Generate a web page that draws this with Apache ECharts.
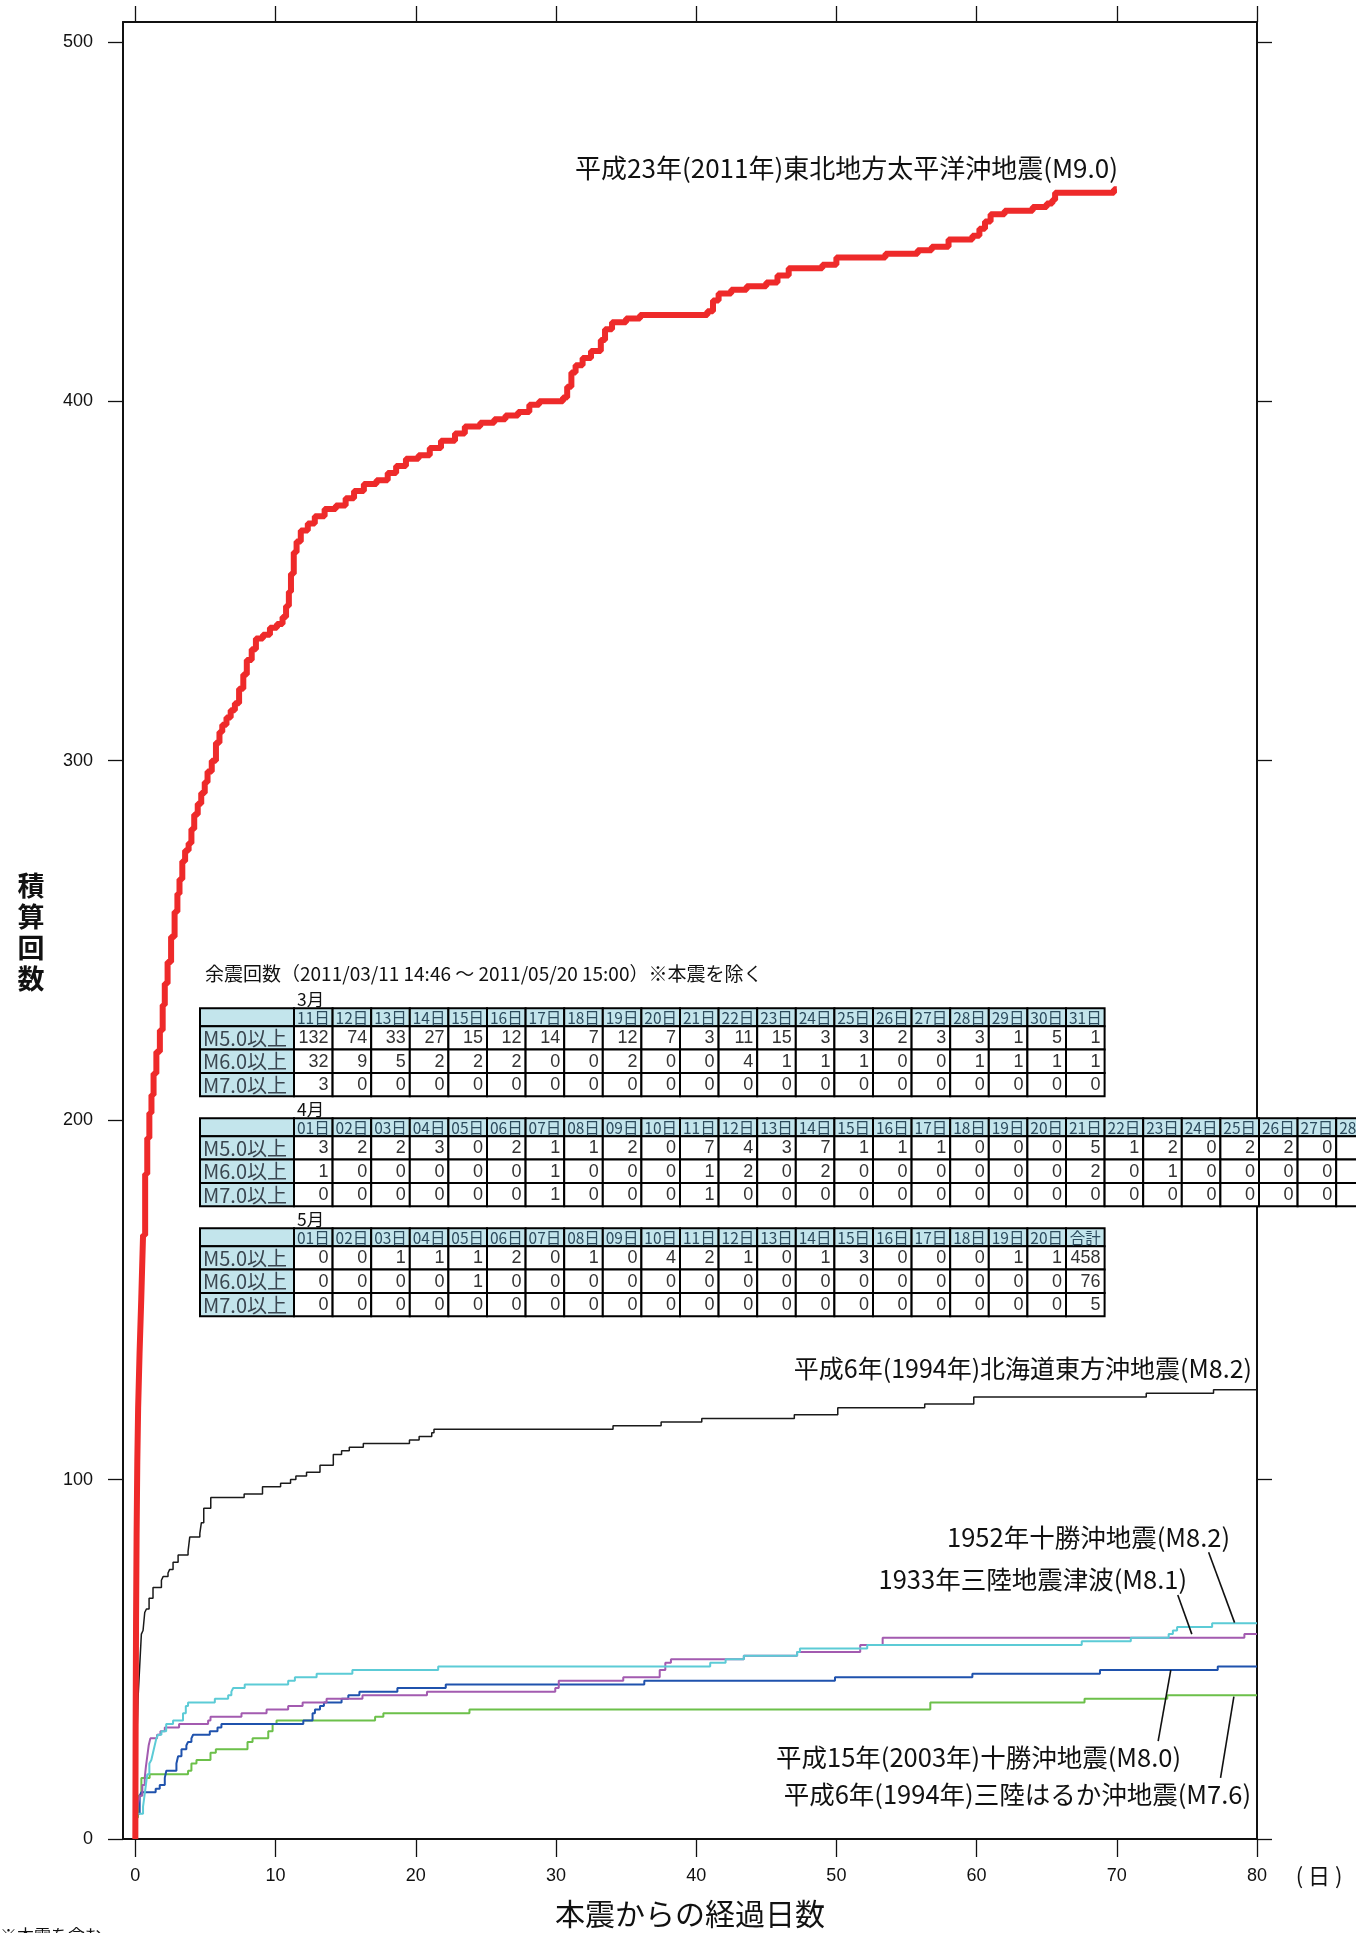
<!DOCTYPE html>
<html><head><meta charset="utf-8">
<script src="https://cdn.jsdelivr.net/npm/echarts@6/dist/echarts.min.js"></script>
<style>html,body{margin:0;padding:0;background:#fff}#c{width:1356px;height:1933px}</style>
</head><body><div id="c"></div>
<script>
// ---- axis ticks ----
const xTicks = [0,10,20,30,40,50,60,70,80];
const yTicks = [0,100,200,300,400,500];

// ---- cumulative aftershock curves [days since mainshock, cumulative count] ----
const tohoku2011 = [[0,0],[0.02,30],[0.05,60],[0.09,85],[0.14,105],[0.2,120],[0.3,135],[0.42,150],[0.55,168],[0.7,185],[0.85,195],[1.0,202],[1.15,207],[1.3,213],[1.5,219],[1.75,225],[1.95,232],[2.1,238],[2.3,244],[2.55,251],[2.8,258],[3.0,263],[3.15,267],[3.35,272],[3.55,275],[3.8,277],[4.0,281],[4.2,285],[4.45,288],[4.7,291],[4.95,294],[5.15,297],[5.45,300],[5.75,305],[6.0,308],[6.2,310],[6.5,312],[6.8,314],[7.1,316],[7.4,320],[7.7,324],[7.95,328],[8.3,331],[8.6,334],[9.1,335],[9.6,337],[10.1,338],[10.5,340],[10.75,343],[10.95,347],[11.1,352],[11.3,358],[11.5,361],[11.8,364],[12.3,366],[12.8,368],[13.5,370],[14.3,371],[15.0,373],[15.6,375],[16.3,377],[17.2,378],[18.0,380],[18.6,382],[19.3,384],[20.2,385],[21.0,387],[21.8,389],[22.8,391],[23.5,393],[24.6,394],[25.6,395],[26.4,396],[27.3,397],[28.1,399],[28.8,400],[30.5,401],[30.8,404],[31.1,408],[31.4,410],[31.9,412],[32.5,414],[33.2,417],[33.5,420],[34.0,422],[35.0,423],[36.0,424],[40.8,425],[41.2,428],[41.6,430],[42.5,431],[43.6,432],[45.0,433],[45.8,435],[46.6,437],[49.0,438],[50.0,440],[53.5,441],[55.8,442],[56.8,443],[58.0,445],[59.7,446],[60.2,448],[60.6,450],[61.0,452],[62.0,453],[64.0,454],[65.0,455],[65.4,456],[65.6,458],[69.8,459],[70.0,459]];
const hokkaido1994 = [[0,0],[0.05,20],[0.19,39],[0.31,48],[0.43,57],[0.55,58],[0.67,63],[0.79,64],[0.98,67],[1.26,70],[1.86,72],[1.98,73],[2.33,74],[2.45,75],[2.69,77],[3.05,79],[3.76,80],[3.88,84],[4.6,85],[4.71,88],[4.88,92],[5.38,95],[7.76,96],[9.07,98],[10.36,99],[11.07,100],[11.45,101],[12.21,102],[13.17,104],[14.12,107],[14.71,108],[15.26,109],[16.26,110],[19.55,111],[20.24,112],[21.14,113],[21.3,114],[34.07,115],[37.5,116],[40.4,117],[47,118],[50.1,120],[56.3,121],[59.8,123],[72.1,124],[76.9,125],[80,125]];
const tokachi1952 = [[0,0],[0.05,7],[0.55,9],[0.65,12],[0.75,15],[0.85,18],[1.0,21],[1.14,22],[1.26,24],[1.38,26],[1.5,28],[1.62,29],[1.86,30],[2.2,32],[2.69,33],[3.4,35],[3.6,37],[3.76,38],[5.67,39],[6.62,40],[6.85,41],[6.98,42],[7.8,43],[10.9,44],[11.38,45],[12.93,46],[15.48,47],[21.6,48],[41.0,49],[42.1,50],[43.4,51],[47.2,52],[47.4,53],[52.2,54],[67.5,55],[71.0,56],[73.7,57],[74.0,58],[74.3,59],[76.8,60],[80,60]];
const sanriku1933 = [[0,0],[0.1,8],[0.2,10],[0.31,12],[0.5,15],[0.67,17],[0.75,20],[0.85,23],[0.95,26],[1.07,28],[1.55,29],[1.79,30],[2.1,31],[3.12,32],[5.19,33],[5.36,34],[7.57,35],[9.36,36],[10.9,37],[11.93,38],[13.64,39],[16.2,40],[20.8,41],[29.95,42],[30.2,44],[34.8,45],[37.4,47],[37.8,49],[38.2,50],[43.4,51],[47.2,52],[51.7,54],[53.3,56],[79.1,57],[80,57]];
const tokachi2003 = [[0,0],[0.02,7],[0.31,12],[0.43,13],[1.45,14],[1.74,15],[2.1,17],[2.21,19],[2.93,21],[3.05,23],[3.29,25],[3.64,26],[3.76,27],[4.0,28],[4.12,29],[5.31,30],[5.86,31],[6.14,32],[11.98,33],[12.64,35],[12.81,36],[13.17,37],[13.45,38],[14.71,39],[15.19,40],[15.98,41],[18.69,42],[22.14,43],[36.3,44],[49.9,45],[59.7,46],[68.8,47],[77.2,48],[80,48]];
const sanrikuHaruka1994 = [[0,0],[0.02,6],[0.19,12],[0.43,17],[1.02,18],[3.76,19],[4.0,21],[4.36,22],[5.36,24],[5.74,25],[8.0,27],[8.36,28],[9.48,30],[9.79,32],[10.07,33],[17.1,34],[17.69,35],[23.83,36],[56.7,38],[67.7,39],[73.6,40],[80,40]];

// ---- curve labels ----
const labelTohoku = '平成23年(2011年)東北地方太平洋沖地震(M9.0)';
const labelHokkaido = '平成6年(1994年)北海道東方沖地震(M8.2)';
const label1952 = '1952年十勝沖地震(M8.2)';
const label1933 = '1933年三陸地震津波(M8.1)';
const label2003 = '平成15年(2003年)十勝沖地震(M8.0)';
const labelHaruka = '平成6年(1994年)三陸はるか沖地震(M7.6)';

// ---- aftershock table ----
const tableTitle = '余震回数（2011/03/11 14:46 ～ 2011/05/20 15:00）※本震を除く';
const rowLabels = ['M5.0以上','M6.0以上','M7.0以上'];
const marchDays = ['11日','12日','13日','14日','15日','16日','17日','18日','19日','20日','21日','22日','23日','24日','25日','26日','27日','28日','29日','30日','31日'];
const marchM5 = [132,74,33,27,15,12,14,7,12,7,3,11,15,3,3,2,3,3,1,5,1];
const marchM6 = [32,9,5,2,2,2,0,0,2,0,0,4,1,1,1,0,0,1,1,1,1];
const marchM7 = [3,0,0,0,0,0,0,0,0,0,0,0,0,0,0,0,0,0,0,0,0];
const aprilDays = ['01日','02日','03日','04日','05日','06日','07日','08日','09日','10日','11日','12日','13日','14日','15日','16日','17日','18日','19日','20日','21日','22日','23日','24日','25日','26日','27日','28日','29日','30日'];
const aprilM5 = [3,2,2,3,0,2,1,1,2,0,7,4,3,7,1,1,1,0,0,0,5,1,2,0,2,2,0,null,null,null];
const aprilM6 = [1,0,0,0,0,0,1,0,0,0,1,2,0,2,0,0,0,0,0,0,2,0,1,0,0,0,0,null,null,null];
const aprilM7 = [0,0,0,0,0,0,1,0,0,0,1,0,0,0,0,0,0,0,0,0,0,0,0,0,0,0,0,null,null,null];
const mayDays = ['01日','02日','03日','04日','05日','06日','07日','08日','09日','10日','11日','12日','13日','14日','15日','16日','17日','18日','19日','20日','合計'];
const mayM5 = [0,0,1,1,1,2,0,1,0,4,2,1,0,1,3,0,0,0,1,1,458];
const mayM6 = [0,0,0,0,1,0,0,0,0,0,0,0,0,0,0,0,0,0,0,0,76];
const mayM7 = [0,0,0,0,0,0,0,0,0,0,0,0,0,0,0,0,0,0,0,0,5];

const JP = '"Noto Sans CJK JP", "Liberation Sans", sans-serif';
const NUM = '"Liberation Sans", "Noto Sans CJK JP", sans-serif';

function txt(text, x, y, size, align, vAlign, color, weight, extra) {
  const st = {text: text, x: x, y: y, fill: color || '#000', fontSize: size, fontFamily: JP,
    fontWeight: weight || 'normal', align: align, verticalAlign: vAlign, textAlign: align, textVerticalAlign: vAlign};
  if (extra) Object.assign(st, extra);
  return {type: 'text', silent: true, z: 100, style: st};
}

function buildTable(top, month, heads, r5, r6, r7) {
  const els = [];
  const X0 = 200, LW = 94, CW = 38.6, HH = 18, RH = 23.3;
  const blue = '#c3e5ec';
  els.push(txt(month, 297, top - 8.5, 17.5, 'left', 'middle', '#111'));
  els.push({type: 'rect', silent: true, z: 90, shape: {x: X0, y: top, width: LW, height: HH}, style: {fill: blue, stroke: '#000', lineWidth: 2}});
  heads.forEach((h, i) => {
    const x = X0 + LW + i * CW;
    els.push({type: 'rect', silent: true, z: 90, shape: {x: x, y: top, width: CW, height: HH}, style: {fill: blue, stroke: '#000', lineWidth: 2}});
    els.push(txt(h, x + CW / 2, top + HH / 2 + 0.5, 15.5, 'center', 'middle', '#2b4a5c'));
  });
  [r5, r6, r7].forEach((row, r) => {
    const y = top + HH + r * RH;
    els.push({type: 'rect', silent: true, z: 90, shape: {x: X0, y: y, width: LW, height: RH}, style: {fill: blue, stroke: '#000', lineWidth: 2}});
    els.push(txt(rowLabels[r], X0 + 3, y + RH / 2 + 0.5, 20, 'left', 'middle', '#3a4650'));
    row.forEach((v, i) => {
      const x = X0 + LW + i * CW;
      els.push({type: 'rect', silent: true, z: 90, shape: {x: x, y: y, width: CW, height: RH}, style: {fill: '#fff', stroke: '#000', lineWidth: 2}});
      els.push(txt(v === null ? '' : String(v), x + CW - 4, y + RH / 2 + 0.5, 18, 'right', 'middle', '#333', 'normal', {fontFamily: NUM}));
    });
  });
  return els;
}

const graphics = [].concat(
  [txt(tableTitle, 205, 974, 19, 'left', 'middle', '#111')],
  buildTable(1008.3, '3月', marchDays, marchM5, marchM6, marchM7),
  buildTable(1118.3, '4月', aprilDays, aprilM5, aprilM6, aprilM7),
  buildTable(1228.3, '5月', mayDays, mayM5, mayM6, mayM7),
  [
    txt(labelTohoku, 1118, 168, 26, 'right', 'middle', '#111'),
    txt(labelHokkaido, 1252, 1368, 25, 'right', 'middle', '#111'),
    txt(label1952, 1230, 1537, 25.5, 'right', 'middle', '#111'),
    txt(label1933, 1187, 1579, 25.5, 'right', 'middle', '#111'),
    txt(label2003, 1181, 1757, 25.5, 'right', 'middle', '#111'),
    txt(labelHaruka, 1251, 1794, 25.5, 'right', 'middle', '#111'),
    txt('積\n算\n回\n数', 31, 932, 27, 'center', 'middle', '#111', 'bold', {lineHeight: 31}),
    txt('本震からの経過日数', 690, 1914, 30, 'center', 'middle', '#111'),
    txt('( 日 )', 1319, 1876, 22, 'center', 'middle', '#111'),
    txt('※本震を含む', 0, 1927, 17, 'left', 'top', '#111')
  ]
);

function leader(p1, p2) {
  return {symbol: ['none', 'none'], silent: true, animation: false,
    label: {show: false}, lineStyle: {color: '#111', width: 1.6, type: 'solid'},
    data: [[{coord: p1}, {coord: p2}]]};
}

function curve(name, data, color, width, ml) {
  const s = {name: name, type: 'line', step: 'end', data: data, showSymbol: false, symbol: 'none',
    lineStyle: {color: color, width: width}, itemStyle: {color: color}, silent: true, clip: true};
  if (ml) s.markLine = ml;
  return s;
}

const axisLineStyle = {color: '#111', width: 2};
const option = {
  animation: false,
  backgroundColor: '#fff',
  grid: {left: 123, right: 99, top: 22, bottom: 94, containLabel: false},
  xAxis: [
    {type: 'value', position: 'bottom', min: -0.88, max: 80,
      axisLine: {show: true, onZero: false, lineStyle: axisLineStyle},
      axisTick: {show: true, customValues: xTicks, length: 18, lineStyle: {color: '#111', width: 1.3}},
      axisLabel: {show: true, customValues: xTicks, margin: 28, fontSize: 18, color: '#111', fontFamily: NUM},
      splitLine: {show: false}},
    {type: 'value', position: 'top', min: -0.88, max: 80,
      axisLine: {show: true, onZero: false, lineStyle: axisLineStyle},
      axisTick: {show: true, customValues: xTicks, length: 16, lineStyle: {color: '#111', width: 1.3}},
      axisLabel: {show: false}, splitLine: {show: false}}
  ],
  yAxis: [
    {type: 'value', position: 'left', min: 0, max: 505.5,
      axisLine: {show: true, onZero: false, lineStyle: axisLineStyle},
      axisTick: {show: true, customValues: yTicks, length: 15, lineStyle: {color: '#111', width: 1.3}},
      axisLabel: {show: true, customValues: yTicks, margin: 30, fontSize: 18, color: '#111', fontFamily: NUM},
      splitLine: {show: false}},
    {type: 'value', position: 'right', min: 0, max: 505.5,
      axisLine: {show: true, onZero: false, lineStyle: axisLineStyle},
      axisTick: {show: true, customValues: yTicks, length: 15, lineStyle: {color: '#111', width: 1.3}},
      axisLabel: {show: false}, splitLine: {show: false}}
  ],
  series: [
    curve('1994三陸はるか沖', sanrikuHaruka1994, '#6cc04a', 2, leader([78.35, 39.6], [77.4, 17.0])),
    curve('2003十勝沖', tokachi2003, '#1f52ad', 2, leader([73.85, 47.0], [72.95, 27.2])),
    curve('1933三陸', sanriku1933, '#a35bb0', 2, leader([74.35, 67.9], [75.35, 57.0])),
    curve('1952十勝沖', tokachi1952, '#5ccbd6', 2, leader([76.55, 79.8], [78.4, 60.2])),
    curve('1994北海道東方沖', hokkaido1994, '#1a1a1a', 1.5),
    curve('2011東北', tohoku2011, '#ee2a2a', 6)
  ],
  graphic: graphics
};

const chart = echarts.init(document.getElementById('c'), null, {renderer: 'canvas'});
chart.setOption(option);
</script>
</body></html>
